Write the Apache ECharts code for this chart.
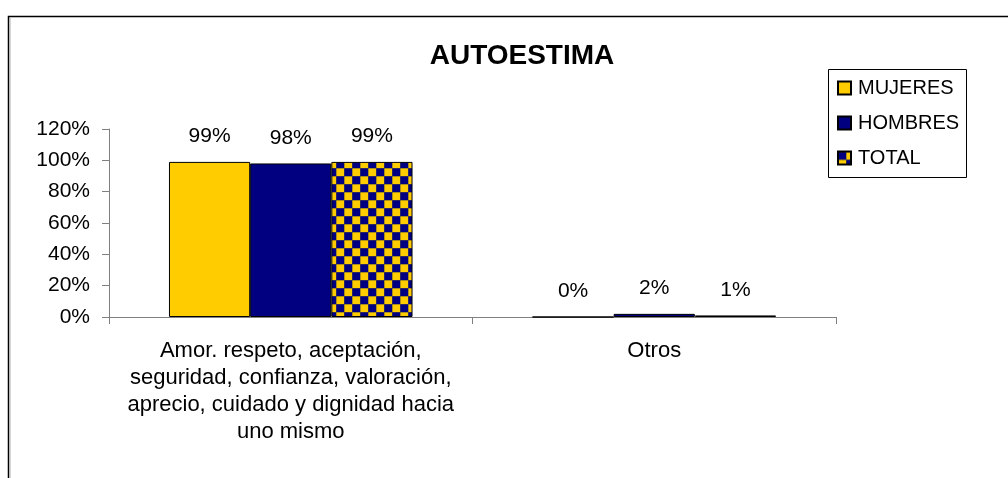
<!DOCTYPE html>
<html>
<head>
<meta charset="utf-8">
<script src="https://cdn.jsdelivr.net/npm/echarts@6/dist/echarts.min.js"></script>
<style>
  html, body { margin: 0; padding: 0; background: #fff; }
  #chart { width: 1008px; height: 478px; }
</style>
</head>
<body>
<div id="chart"></div>
<script>
// datos del gráfico
const categories = [
  'Amor. respeto, aceptación,\nseguridad, confianza, valoración,\naprecio, cuidado y dignidad hacia\nuno mismo',
  'Otros'
]
const mujeres = [99, 0]
const hombres = [98, 2]
const total = [99, 1]
const yTicks = [0, 20, 40, 60, 80, 100, 120]

const YELLOW = '#FFCC00'
const NAVY = '#000080'
const FONT = 'Liberation Sans, Arial, sans-serif'

// patrón de cuadros para TOTAL
const makePattern = () => {
  const c = document.createElement('canvas')
  c.width = 16
  c.height = 16
  const ctx = c.getContext('2d')
  ctx.fillStyle = YELLOW
  ctx.fillRect(0, 0, 16, 16)
  ctx.fillStyle = NAVY
  ctx.fillRect(0, 0, 8, 8)
  ctx.fillRect(8, 8, 8, 8)
  ctx.strokeStyle = 'rgba(90,80,60,0.5)'
  ctx.lineWidth = 1
  ctx.beginPath()
  ctx.moveTo(0, 0.5); ctx.lineTo(16, 0.5)
  ctx.moveTo(0, 8.5); ctx.lineTo(16, 8.5)
  ctx.moveTo(0.5, 0); ctx.lineTo(0.5, 16)
  ctx.moveTo(8.5, 0); ctx.lineTo(8.5, 16)
  ctx.stroke()
  return { image: c, repeat: 'repeat' }
}

const chart = echarts.init(document.getElementById('chart'))

const labelStyle = {
  show: true,
  position: 'top',
  distance: 15,
  color: '#000',
  fontSize: 21,
  fontFamily: FONT,
  formatter: (p) => p.value + '%',
}

const options = {
  animation: false,
  textStyle: { fontFamily: FONT },
  title: {
    text: 'AUTOESTIMA',
    left: 517,
    top: 37,
    textAlign: 'center',
    textStyle: {
      fontSize: 28,
      fontWeight: 'bold',
      color: '#000',
      fontFamily: FONT,
    },
  },
  legend: {
    orient: 'vertical',
    left: 837,
    top: 77,
    padding: 0,
    itemGap: 13,
    itemWidth: 13,
    itemHeight: 13,
    icon: 'rect',
    textStyle: { fontSize: 20, lineHeight: 22, color: '#000', padding: [0, 0, 0, 2] },
    data: ['MUJERES', 'HOMBRES', 'TOTAL'],
  },
  grid: {
    left: 109,
    top: 129,
    width: 727,
    height: 188,
    containLabel: false,
  },
  xAxis: {
    type: 'category',
    data: categories,
    axisLine: { lineStyle: { color: '#808080', width: 1 } },
    axisTick: { show: true, length: 7, lineStyle: { color: '#808080' } },
    axisLabel: {
      margin: 20,
      color: '#000',
      fontSize: 22,
      lineHeight: 27,
      interval: 0,
      align: 'center',
    },
  },
  yAxis: {
    type: 'value',
    min: yTicks[0],
    max: yTicks[yTicks.length - 1],
    interval: 20,
    axisLine: { show: true, lineStyle: { color: '#808080', width: 1 } },
    axisTick: { show: true, length: 7, lineStyle: { color: '#808080' } },
    splitLine: { show: false },
    axisLabel: {
      margin: 19,
      color: '#000',
      fontSize: 21,
      formatter: '{value}%',
    },
  },
  series: [
    {
      name: 'MUJERES',
      type: 'bar',
      data: mujeres,
      barGap: '0%',
      barCategoryGap: '33%',
      itemStyle: { color: YELLOW, borderColor: '#000', borderWidth: 1 },
      label: labelStyle,
    },
    {
      name: 'HOMBRES',
      type: 'bar',
      data: hombres,
      barGap: '0%',
      barCategoryGap: '33%',
      itemStyle: { color: NAVY, borderColor: '#000', borderWidth: 1 },
      label: labelStyle,
    },
    {
      name: 'TOTAL',
      type: 'bar',
      data: total,
      barGap: '0%',
      barCategoryGap: '33%',
      itemStyle: { color: makePattern(), borderColor: '#000', borderWidth: 1 },
      label: labelStyle,
    },
  ],
  graphic: [
    {
      type: 'rect',
      shape: { x: 8.5, y: 16.5, width: 1100, height: 600 },
      style: { fill: 'none', stroke: '#000', lineWidth: 1.5 },
      silent: true,
    },
    {
      type: 'line',
      shape: { x1: 10, y1: 18, x2: 10, y2: 478 },
      style: { stroke: '#b0b0b0', lineWidth: 1 },
      silent: true,
    },
    {
      // marco de la leyenda
      type: 'rect',
      shape: { x: 828.5, y: 69.5, width: 138, height: 108 },
      style: { fill: 'none', stroke: '#000', lineWidth: 1 },
      silent: true,
    },
  ],
}

chart.setOption(options)
</script>
</body>
</html>
